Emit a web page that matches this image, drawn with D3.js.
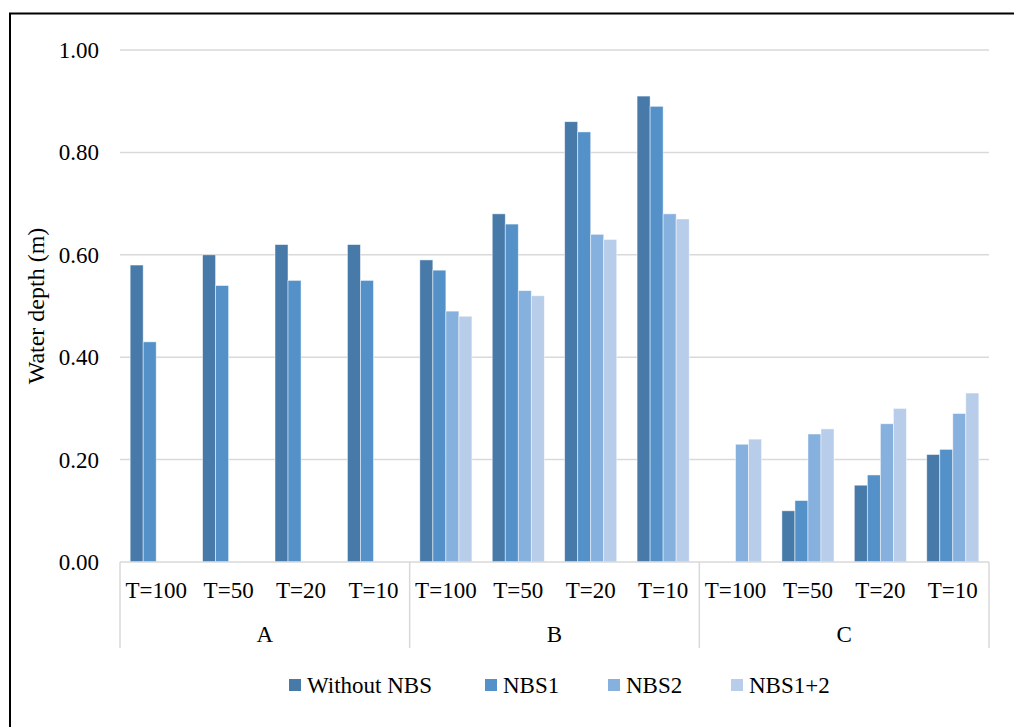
<!DOCTYPE html>
<html><head><meta charset="utf-8">
<script src="https://cdn.jsdelivr.net/npm/d3@7"></script>
</head><body style="margin:0;background:#fff"><svg id="c" width="1014" height="727"></svg>
<script>
const groups = ["A","B","C"];
const periods = ["T=100","T=50","T=20","T=10"];
const seriesNames = ["Without NBS","NBS1","NBS2","NBS1+2"];
const withoutNBS = [0.58,0.60,0.62,0.62, 0.59,0.68,0.86,0.91, null,0.10,0.15,0.21];
const nbs1       = [0.43,0.54,0.55,0.55, 0.57,0.66,0.84,0.89, null,0.12,0.17,0.22];
const nbs2       = [null,null,null,null, 0.49,0.53,0.64,0.68, 0.23,0.25,0.27,0.29];
const nbs12      = [null,null,null,null, 0.48,0.52,0.63,0.67, 0.24,0.26,0.30,0.33];
const yTicks = [0,0.2,0.4,0.6,0.8,1.0];
const colors = ["#4779a9","#5591c9","#86b0dd","#b8cde9"];
const seriesVals = [withoutNBS,nbs1,nbs2,nbs12];
const FS = 23;

const svg = d3.select("#c");
const L=120, R=989, T=50, B=562;
const cats = d3.range(groups.length*periods.length);
const x = d3.scaleBand().domain(cats).range([L,R]).paddingInner(0).paddingOuter(0);
const xs = d3.scaleBand().domain(d3.range(4)).range([0,x.bandwidth()]).paddingInner(0).paddingOuter(0.78);
const y = d3.scaleLinear().domain([0,1]).range([B,T]);

svg.append("rect").attr("x",10).attr("y",13.5).attr("width",1030).attr("height",740).attr("fill","none").attr("stroke","#000").attr("stroke-width",2);

svg.selectAll("line.grid").data(yTicks.slice(1)).join("line").attr("class","grid")
  .attr("x1",L).attr("x2",R).attr("y1",d=>y(d)).attr("y2",d=>y(d)).attr("stroke","#d9d9d9").attr("stroke-width",1.5);

svg.selectAll("text.yt").data(yTicks).join("text").attr("class","yt")
  .attr("x",99).attr("y",d=>y(d)+8).attr("font-size",FS).attr("text-anchor","end")
  .text(d=>d3.format(".2f")(d));
svg.append("text").attr("transform","translate(44,306) rotate(-90)").attr("text-anchor","middle")
  .attr("font-size",FS+1).text("Water depth (m)");

seriesVals.forEach((vals,si)=>{
  svg.append("g").selectAll("rect").data(cats.filter(i=>vals[i]!=null)).join("rect")
    .attr("x",i=>x(i)+xs(si)).attr("width",xs.bandwidth())
    .attr("y",i=>y(vals[i])).attr("height",i=>B-y(vals[i]))
    .attr("fill",colors[si]).attr("stroke","rgba(255,255,255,0.6)").attr("stroke-width",0.8);
});

svg.append("line").attr("x1",L).attr("x2",R).attr("y1",B).attr("y2",B).attr("stroke","#d9d9d9").attr("stroke-width",1.5);
const seps = d3.range(groups.length+1).map(g=> g<groups.length ? x(g*periods.length) : R);
svg.selectAll("line.sep").data(seps).join("line").attr("class","sep")
  .attr("x1",d=>d).attr("x2",d=>d).attr("y1",B).attr("y2",648).attr("stroke","#d9d9d9").attr("stroke-width",1.5);
svg.selectAll("text.xt").data(cats).join("text").attr("class","xt")
  .attr("x",i=>x(i)+x.bandwidth()/2).attr("y",598).attr("font-size",FS).attr("text-anchor","middle")
  .text(i=>periods[i%periods.length]);
svg.selectAll("text.gl").data(groups).join("text").attr("class","gl")
  .attr("x",(g,gi)=>(seps[gi]+seps[gi+1])/2).attr("y",642).attr("font-size",FS).attr("text-anchor","middle")
  .text(g=>g);

const legX = [289,485,608,731];
svg.selectAll("rect.lg").data(seriesNames).join("rect").attr("class","lg")
  .attr("x",(d,i)=>legX[i]).attr("y",679).attr("width",12).attr("height",12).attr("fill",(d,i)=>colors[i]);
svg.selectAll("text.lg").data(seriesNames).join("text").attr("class","lg")
  .attr("x",(d,i)=>legX[i]+18).attr("y",693).attr("font-size",FS).text(d=>d);
</script></body></html>
